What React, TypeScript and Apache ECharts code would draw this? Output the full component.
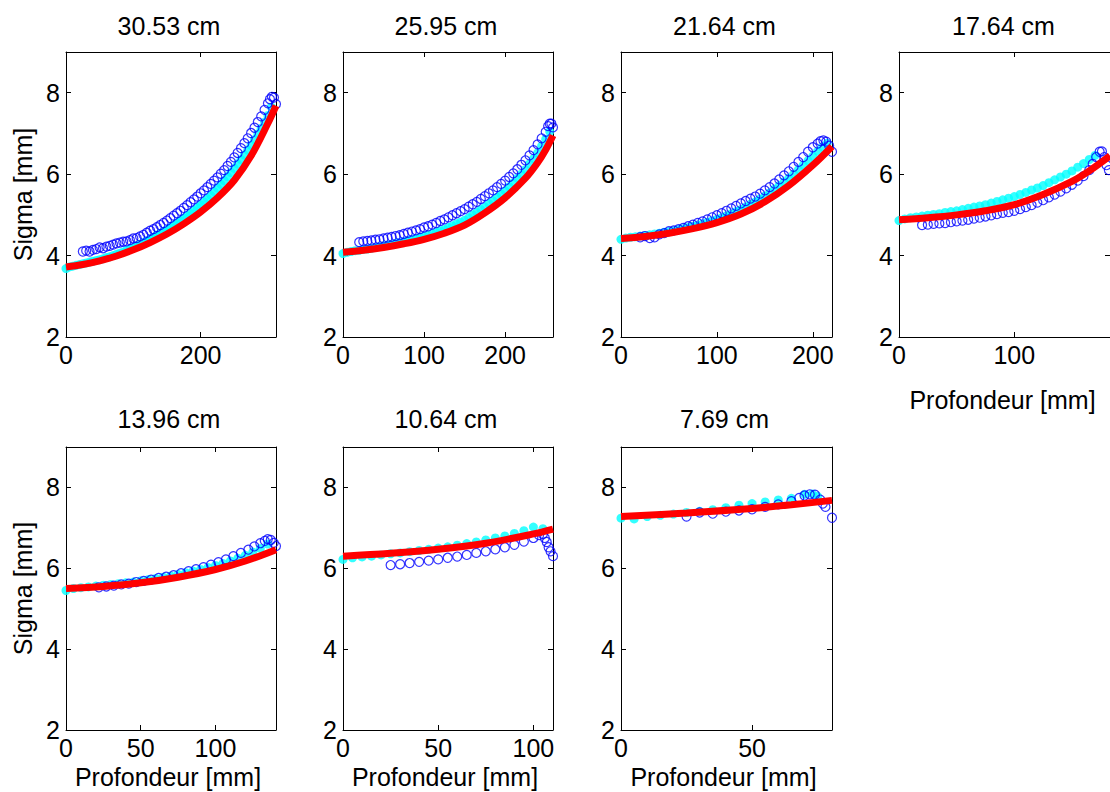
import React, { useEffect, useRef } from "react";
import * as echarts from "echarts";

type P = [number, number][];

// ---- panel titles / axes ----
const titles = ["30.53 cm", "25.95 cm", "21.64 cm", "17.64 cm", "13.96 cm", "10.64 cm", "7.69 cm"];
const xMaxes = [312, 259, 220, 183, 140.5, 110.3, 80.5];
const xIntervals = [200, 100, 100, 100, 50, 50, 50];
const yMin = 2;
const yMax = 9;
const yInterval = 2;
const yLabel = "Sigma [mm]";
const xLabel = "Profondeur [mm]";

// ---- 30.53 cm ----
const cyan1: P = [[0,3.68],[5,3.72],[10,3.74],[15,3.76],[20,3.78],[25,3.80],[30,3.82],[35,3.84],[40,3.86],[45,3.88],[50,3.90],[55,3.92],[60,3.95],[65,3.97],[70,4.00],[75,4.03],[80,4.06],[85,4.09],[90,4.13],[95,4.16],[100,4.20],[105,4.24],[110,4.28],[115,4.32],[120,4.36],[125,4.41],[130,4.45],[135,4.50],[140,4.55],[145,4.59],[150,4.64],[155,4.69],[160,4.75],[165,4.80],[170,4.86],[175,4.92],[180,4.98],[185,5.04],[190,5.11],[195,5.18],[200,5.25],[205,5.32],[210,5.40],[215,5.48],[220,5.57],[225,5.66],[230,5.75],[235,5.84],[240,5.94],[245,6.04],[250,6.14],[255,6.25],[260,6.36],[265,6.47],[270,6.59],[275,6.71],[280,6.85],[285,6.99],[290,7.13],[295,7.28],[300,7.44],[305,7.65]];
const blue1: P = [[25,4.10],[30,4.12],[35,4.10],[40,4.14],[45,4.16],[50,4.20],[55,4.18],[60,4.22],[65,4.24],[70,4.27],[75,4.30],[80,4.32],[85,4.34],[90,4.35],[95,4.38],[100,4.42],[105,4.43],[110,4.47],[115,4.51],[120,4.56],[125,4.61],[130,4.65],[135,4.70],[140,4.75],[145,4.80],[150,4.86],[155,4.92],[160,4.98],[165,5.04],[170,5.10],[175,5.17],[180,5.24],[185,5.31],[190,5.38],[195,5.45],[200,5.53],[205,5.60],[210,5.68],[215,5.76],[220,5.84],[225,5.92],[230,6.01],[235,6.10],[240,6.20],[245,6.30],[250,6.41],[255,6.52],[260,6.64],[265,6.76],[270,6.88],[275,7.01],[280,7.14],[285,7.28],[290,7.42],[295,7.58],[300,7.74],[303,7.84],[306,7.90],[309,7.88],[312,7.72]];
const red1: P = [[0,3.72],[25,3.78],[50,3.87],[75,3.99],[100,4.14],[125,4.32],[150,4.53],[175,4.78],[200,5.07],[225,5.42],[250,5.85],[275,6.45],[300,7.25],[312,7.68]];

// ---- 25.95 cm ----
const cyan2: P = [[0,4.05],[5,4.08],[10,4.10],[15,4.12],[20,4.13],[25,4.15],[30,4.16],[35,4.18],[40,4.20],[45,4.22],[50,4.24],[55,4.26],[60,4.28],[65,4.30],[70,4.32],[75,4.34],[80,4.37],[85,4.39],[90,4.42],[95,4.45],[100,4.47],[105,4.50],[110,4.54],[115,4.57],[120,4.61],[125,4.64],[130,4.69],[135,4.73],[140,4.78],[145,4.82],[150,4.87],[155,4.93],[160,5.00],[165,5.06],[170,5.13],[175,5.19],[180,5.27],[185,5.34],[190,5.43],[195,5.51],[200,5.59],[205,5.69],[210,5.79],[215,5.90],[220,6.00],[225,6.11],[230,6.25],[235,6.38],[240,6.52],[245,6.69],[250,6.86],[255,7.05]];
const blue2: P = [[20,4.33],[25,4.35],[30,4.36],[35,4.37],[40,4.39],[45,4.40],[50,4.42],[55,4.44],[60,4.46],[65,4.48],[70,4.50],[75,4.53],[80,4.56],[85,4.59],[90,4.62],[95,4.65],[100,4.69],[105,4.72],[110,4.76],[115,4.80],[120,4.85],[125,4.89],[130,4.94],[135,4.99],[140,5.04],[145,5.09],[150,5.14],[155,5.20],[160,5.26],[165,5.32],[170,5.39],[175,5.46],[180,5.53],[185,5.60],[190,5.68],[195,5.76],[200,5.84],[205,5.93],[210,6.02],[215,6.12],[220,6.23],[225,6.34],[230,6.46],[235,6.59],[240,6.73],[245,6.88],[250,7.04],[253,7.18],[255,7.24],[257,7.24],[259,7.15]];
const red2: P = [[0,4.08],[25,4.13],[50,4.20],[75,4.29],[100,4.40],[125,4.55],[150,4.75],[175,5.05],[200,5.42],[225,5.90],[240,6.28],[250,6.60],[259,6.95]];

// ---- 21.64 cm ----
const cyan3: P = [[0,4.40],[5,4.43],[10,4.45],[15,4.46],[20,4.48],[25,4.49],[30,4.51],[35,4.53],[40,4.55],[45,4.57],[50,4.59],[55,4.61],[60,4.64],[65,4.66],[70,4.69],[75,4.72],[80,4.75],[85,4.78],[90,4.82],[95,4.85],[100,4.89],[105,4.93],[110,4.98],[115,5.03],[120,5.08],[125,5.13],[130,5.19],[135,5.26],[140,5.32],[145,5.39],[150,5.46],[155,5.54],[160,5.63],[165,5.72],[170,5.81],[175,5.90],[180,6.00],[185,6.11],[190,6.22],[195,6.33],[200,6.44],[205,6.56],[210,6.67],[215,6.76]];
const blue3: P = [[20,4.45],[25,4.48],[30,4.43],[35,4.45],[40,4.52],[45,4.55],[50,4.60],[55,4.62],[60,4.65],[65,4.68],[70,4.72],[75,4.76],[80,4.80],[85,4.84],[90,4.89],[95,4.94],[100,4.99],[105,5.04],[110,5.10],[115,5.16],[120,5.22],[125,5.28],[130,5.34],[135,5.40],[140,5.45],[145,5.52],[150,5.60],[155,5.68],[160,5.77],[165,5.87],[170,5.97],[175,6.07],[180,6.18],[185,6.30],[190,6.42],[195,6.55],[200,6.66],[205,6.75],[208,6.81],[211,6.83],[214,6.80],[217,6.70],[220,6.55]];
const red3: P = [[0,4.42],[25,4.47],[50,4.55],[75,4.66],[100,4.81],[125,5.02],[150,5.32],[175,5.72],[200,6.22],[220,6.68]];

// ---- 17.64 cm ----
const cyan4: P = [[0,4.86],[5,4.90],[10,4.93],[15,4.95],[20,4.97],[25,4.99],[30,5.01],[35,5.03],[40,5.06],[45,5.08],[50,5.10],[55,5.13],[60,5.16],[65,5.19],[70,5.22],[75,5.25],[80,5.29],[85,5.33],[90,5.37],[95,5.41],[100,5.45],[105,5.50],[110,5.55],[115,5.61],[120,5.66],[125,5.72],[130,5.79],[135,5.86],[140,5.93],[145,6.00],[150,6.08],[155,6.17],[160,6.26],[165,6.36],[170,6.46]];
const blue4: P = [[20,4.75],[25,4.76],[30,4.78],[35,4.79],[40,4.80],[45,4.82],[50,4.84],[55,4.86],[60,4.88],[65,4.91],[70,4.93],[75,4.96],[80,4.99],[85,5.02],[90,5.05],[95,5.07],[100,5.10],[105,5.14],[110,5.19],[115,5.24],[120,5.30],[125,5.36],[130,5.43],[135,5.50],[140,5.57],[145,5.65],[150,5.74],[155,5.84],[160,5.95],[165,6.10],[168,6.25],[171,6.42],[174,6.55],[176,6.56],[178,6.42],[180,6.22],[182,6.10]];
const red4: P = [[0,4.88],[25,4.93],[50,5.00],[75,5.10],[100,5.25],[125,5.50],[150,5.82],[165,6.08],[183,6.45]];

// ---- 13.96 cm ----
const cyan5: P = [[0,5.45],[5,5.50],[10,5.52],[15,5.54],[20,5.56],[25,5.58],[30,5.60],[35,5.62],[40,5.64],[45,5.66],[50,5.69],[55,5.72],[60,5.75],[65,5.78],[70,5.81],[75,5.85],[80,5.89],[85,5.93],[90,5.97],[95,6.02],[100,6.07],[105,6.12],[110,6.18],[115,6.25],[120,6.32],[125,6.40],[130,6.49],[135,6.60]];
const blue5: P = [[22,5.53],[27,5.55],[32,5.57],[37,5.60],[42,5.62],[47,5.66],[52,5.69],[57,5.72],[62,5.76],[67,5.79],[72,5.83],[77,5.88],[82,5.93],[87,5.98],[92,6.03],[97,6.09],[102,6.15],[107,6.22],[112,6.30],[117,6.38],[122,6.46],[126,6.54],[130,6.62],[133,6.68],[135,6.72],[137,6.70],[139,6.63],[140.5,6.55]];
const red5: P = [[0,5.50],[25,5.55],[50,5.64],[75,5.78],[100,5.97],[120,6.18],[140.5,6.46]];

// ---- 10.64 cm ----
const cyan6: P = [[0,6.22],[5,6.26],[10,6.28],[15,6.30],[20,6.33],[25,6.36],[30,6.38],[35,6.41],[40,6.44],[45,6.47],[50,6.50],[55,6.53],[60,6.57],[65,6.61],[70,6.65],[75,6.70],[80,6.75],[85,6.80],[90,6.86],[95,6.93],[100,7.02],[105,6.98]];
const blue6: P = [[25,6.08],[30,6.10],[35,6.13],[40,6.16],[45,6.19],[50,6.22],[55,6.26],[60,6.29],[65,6.33],[70,6.38],[75,6.42],[80,6.47],[85,6.52],[90,6.58],[95,6.66],[100,6.75],[103,6.82],[105,6.85],[106,6.75],[107,6.65],[108,6.52],[109,6.42],[110.3,6.30]];
const red6: P = [[0,6.30],[25,6.37],[50,6.47],[75,6.62],[100,6.85],[110.3,6.97]];

// ---- 7.69 cm ----
const cyan7: P = [[0,7.24],[5,7.22],[10,7.28],[15,7.31],[20,7.34],[25,7.38],[30,7.41],[35,7.45],[40,7.50],[45,7.56],[50,7.60],[55,7.64],[60,7.69],[65,7.73],[70,7.83],[73,7.84],[75,7.78]];
const blue7: P = [[25,7.28],[30,7.38],[35,7.35],[40,7.40],[45,7.43],[50,7.46],[55,7.52],[60,7.58],[65,7.66],[68,7.74],[70,7.80],[72,7.83],[74,7.82],[76,7.70],[77,7.60],[78,7.52],[80.5,7.25]];
const red7: P = [[0,7.28],[25,7.37],[50,7.48],[65,7.57],[80.5,7.68]];

const cyanSets = [cyan1, cyan2, cyan3, cyan4, cyan5, cyan6, cyan7];
const blueSets = [blue1, blue2, blue3, blue4, blue5, blue6, blue7];
const redSets = [red1, red2, red3, red4, red5, red6, red7];

// ---- layout (pixels) ----
const COL_LEFT = [66, 343, 621, 899];
const COL_WIDTH = [210, 210, 211, 213];
const ROW_TOP = [52, 447];
const ROW_HEIGHT = [285, 283];
const FONT = '"Liberation Sans", Arial, Helvetica, sans-serif';
const FS = 25;

function makeOption() {
  const grid: any[] = [];
  const xAxis: any[] = [];
  const yAxis: any[] = [];
  const series: any[] = [];
  const graphic: any[] = [];

  const tickStyle = { show: true, inside: true, length: 5, lineStyle: { color: "#000", width: 1 } };
  const lineStyle = { show: true, onZero: false, lineStyle: { color: "#000", width: 1 } };

  const txt = (text: string, x: number, y: number, rot = 0) => ({
    type: "text",
    x,
    y,
    rotation: rot,
    silent: true,
    style: {
      text,
      font: `${FS}px ${FONT}`,
      fill: "#000",
      textAlign: "center",
      textVerticalAlign: "middle",
      align: "center",
      verticalAlign: "middle",
    },
  });

  titles.forEach((title, i) => {
    const row = i < 4 ? 0 : 1;
    const col = i < 4 ? i : i - 4;
    const left = COL_LEFT[col];
    const width = COL_WIDTH[col];
    const top = ROW_TOP[row];
    const height = ROW_HEIGHT[row];
    grid.push({ left, top, width, height, containLabel: false });
    const itv = xIntervals[i];
    const baseX = {
      gridIndex: i,
      type: "value",
      min: 0,
      max: xMaxes[i],
      interval: itv,
      splitLine: { show: false },
      axisLine: lineStyle,
      axisTick: tickStyle,
    };
    xAxis.push({
      ...baseX,
      position: "bottom",
      axisLabel: {
        show: true,
        color: "#000",
        fontSize: FS,
        fontFamily: FONT,
        margin: 5,
        showMaxLabel: false,
        formatter: (v: number) => (Math.abs(v % itv) < 1e-9 ? String(v) : ""),
      },
    });
    xAxis.push({ ...baseX, position: "top", axisLabel: { show: false } });
    const baseY = {
      gridIndex: i,
      type: "value",
      min: yMin,
      max: yMax,
      interval: yInterval,
      splitLine: { show: false },
      axisLine: lineStyle,
      axisTick: tickStyle,
    };
    yAxis.push({
      ...baseY,
      position: "left",
      axisLabel: {
        show: true,
        color: "#000",
        fontSize: FS,
        fontFamily: FONT,
        margin: 6,
        showMaxLabel: false,
        formatter: (v: number) => (v % yInterval === 0 ? String(v) : ""),
      },
    });
    yAxis.push({ ...baseY, position: "right", axisLabel: { show: false } });

    const ax = 2 * i;
    series.push({
      type: "scatter",
      xAxisIndex: ax,
      yAxisIndex: ax,
      data: cyanSets[i],
      symbol: "circle",
      symbolSize: 9,
      itemStyle: { color: "#00ffff" },
      z: 2,
      silent: true,
    });
    series.push({
      type: "scatter",
      xAxisIndex: ax,
      yAxisIndex: ax,
      data: blueSets[i],
      symbol: "circle",
      symbolSize: 9,
      itemStyle: { color: "rgba(0,0,0,0)", borderColor: "#0000ff", borderWidth: 1.2 },
      z: 3,
      silent: true,
    });
    series.push({
      type: "line",
      xAxisIndex: ax,
      yAxisIndex: ax,
      data: redSets[i],
      showSymbol: false,
      smooth: 0.35,
      lineStyle: { color: "#ff0000", width: 7 },
      z: 4,
      silent: true,
    });

    const cx = left + width / 2;
    graphic.push(txt(title, cx - 2, row === 0 ? 26 : 419));
    if (col === 0) graphic.push(txt(yLabel, 23, top + height / 2, Math.PI / 2));
    if (row === 1 || i === 3) graphic.push(txt(xLabel, cx - 3, row === 0 ? 400 : 777));
  });

  return {
    animation: false,
    backgroundColor: "#ffffff",
    grid,
    xAxis,
    yAxis,
    series,
    graphic,
  };
}

export default function App() {
  const ref = useRef<HTMLDivElement>(null);
  useEffect(() => {
    if (!ref.current) return;
    const chart = echarts.init(ref.current, undefined, { renderer: "svg" });
    chart.setOption(makeOption() as any);
    return () => chart.dispose();
  }, []);
  return (
    <div
      ref={ref}
      style={{ position: "fixed", left: 0, top: 0, width: 1110, height: 792, background: "#fff" }}
    />
  );
}
